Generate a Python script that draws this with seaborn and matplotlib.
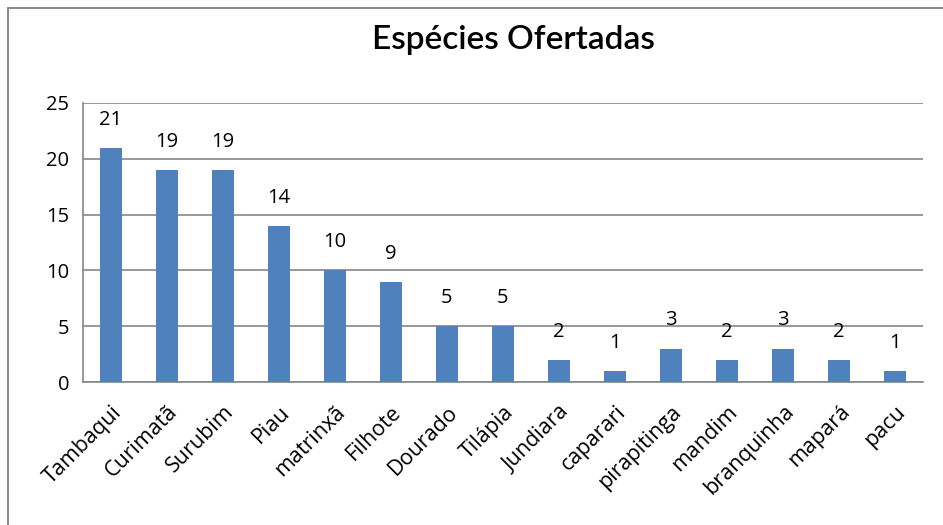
import matplotlib
matplotlib.use("Agg")
import matplotlib.pyplot as plt
import seaborn as sns
import pandas as pd
from matplotlib.lines import Line2D

categories = ["Tambaqui", "Curimatã", "Surubim", "Piau", "matrinxã", "Filhote",
              "Dourado", "Tilápia", "Jundiara", "caparari", "pirapitinga",
              "mandim", "branquinha", "mapará", "pacu"]
values = [21, 19, 19, 14, 10, 9, 5, 5, 2, 1, 3, 2, 3, 2, 1]
yticks = [0, 5, 10, 15, 20, 25]
title = "Espécies Ofertadas"

df = pd.DataFrame({"especie": categories, "n": values})

sns.set_theme(style="white")
plt.rcParams["font.family"] = ["Open Sans", "DejaVu Sans"]
plt.rcParams["text.color"] = "black"

fig = plt.figure(figsize=(9.43, 5.25), dpi=100)
ax = fig.add_axes([83/943, 1-382/525, (923-83)/943, (382-103)/525])

sns.barplot(data=df, x="especie", y="n", color="#4F81BD", saturation=1,
            width=0.4, ax=ax, zorder=3, linewidth=0, edgecolor="none")

ax.set_ylim(0, 25)
ax.set_xlim(-0.5, len(categories)-0.5)
ax.set_yticks(yticks)
ax.set_yticklabels([str(t) for t in yticks], fontsize=14.5)
ax.yaxis.grid(True, color="#868686", linewidth=1.2, zorder=0)
ax.set_axisbelow(True)
ax.tick_params(axis="y", length=0, pad=10, labelcolor="black")
ax.set_xlabel("")
ax.set_ylabel("")
ax.set_xticks(range(len(categories)))
ax.set_xticklabels(categories, rotation=45, ha="right", rotation_mode="anchor",
                   fontsize=15.5)
ax.tick_params(axis="x", length=0, pad=14, labelcolor="black")

for s in ["top", "right"]:
    ax.spines[s].set_visible(False)
ax.spines["left"].set_color("#868686")
ax.spines["left"].set_linewidth(1.2)
ax.spines["bottom"].set_color("#868686")
ax.spines["bottom"].set_linewidth(1.2)

for p, v in zip(ax.patches, values):
    ax.annotate(str(v), (p.get_x() + p.get_width()/2, p.get_height()),
                xytext=(0, 13), textcoords="offset points",
                ha="center", va="bottom", fontsize=14.5, color="black")

fig.text(513/943, 1-40/525, title, ha="center", va="center", color="black",
         fontsize=24, fontweight="semibold", family=["Lato", "DejaVu Sans"])

# outer chart frame (only top and left edges visible)
fig.add_artist(Line2D([8/943, 1.0], [1-8/525, 1-8/525], transform=fig.transFigure,
                      color="#8c8c8c", linewidth=1.5))
fig.add_artist(Line2D([8/943, 8/943], [0.0, 1-8/525], transform=fig.transFigure,
                      color="#8c8c8c", linewidth=1.5))

fig.savefig("out.png", dpi=100)
